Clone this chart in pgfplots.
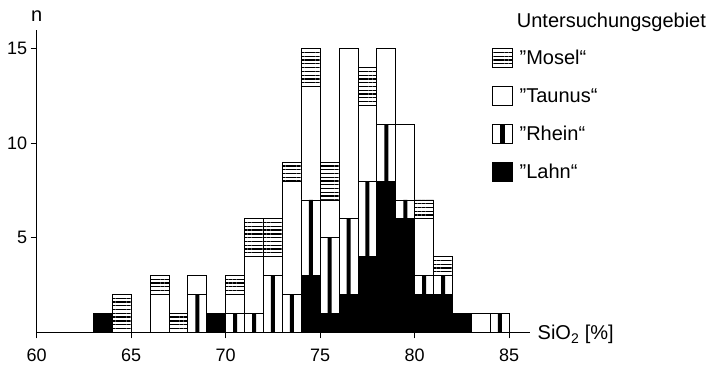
\documentclass[border=0pt]{standalone}
\usepackage{pgfplots}
\pgfplotsset{compat=1.18}
\usepackage{pgfplotstable}
\usepackage{fontspec}
\setmainfont{Liberation Sans}
\usetikzlibrary{patterns.meta}

% counts per 1 % SiO2 class (lower class limit in "bin")
\pgfplotstableread{
bin lahn rhein taunus mosel
63  1 0 0 0
64  0 0 0 2
66  0 0 2 1
67  0 0 0 1
68  0 2 1 0
69  1 0 0 0
70  0 1 1 1
71  0 1 3 2
72  0 3 1 2
73  0 2 6 1
74  3 4 6 2
75  1 4 2 2
76  2 4 9 0
77  4 4 4 2
78  8 3 4 0
79  6 1 4 0
80  2 1 3 1
81  2 1 0 1
82  1 0 0 0
83  0 0 1 0
84  0 1 0 0
}\siotable

\newcommand\bigfont{\fontsize{20bp}{24bp}\selectfont}

\begin{document}
\begin{tikzpicture}
\path[use as bounding box] (0,0) rectangle (716bp,370bp);
\pgfplotsset{
  sioaxis/.style={
    at={(36.7bp,37.7bp)}, anchor=south west,
    x=18.9bp, y=18.9bp,
    xmin=60, xmax=86.1, ymin=0, ymax=16,
    ybar stacked, bar width=1,
  },
}
\begin{axis}[sioaxis,
  axis lines=left,
  axis line style={-, line width=0.8bp, black},
  xtick={60,65,...,85}, ytick={5,10,15},
  tick align=outside, major tick length=6bp,
  tick style={line width=0.8bp, black},
  /pgf/number format/assume math mode=true,
  tick label style={font=\fontsize{18bp}{21bp}\selectfont},
  xticklabel style={yshift=-7bp},
  ylabel={n},
  ylabel style={rotate=-90, at={(axis description cs:0,1)}, anchor=base,
    inner sep=0pt, yshift=8.5bp, font=\bigfont},
  xlabel={SiO\textsubscript{2} [\%]},
  xlabel style={at={(axis description cs:1,0)}, anchor=base west,
    inner sep=0pt, xshift=7.5bp, yshift=-7.7bp, font=\bigfont},
  legend style={draw=none, fill=none, at={(axis description cs:0.9224,0.939)},
    anchor=north west, inner sep=0pt, outer sep=0pt,
    row sep=18.6bp, column sep=7bp, font=\bigfont,
    nodes={inner sep=0pt}},
  legend cell align=left, reverse legend,
  legend image code/.code={\draw[#1, line width=0.9bp] (0bp,-9.25bp) rectangle (20bp,9.25bp);},
]
\addplot[draw=black, line width=0.9bp, fill=black]
  table[x expr=\thisrow{bin}+0.5, y=lahn] {\siotable};
\addlegendentry{”Lahn“}
\addplot[draw=black, line width=0.9bp, fill=white,
  legend image code/.code={%
    \draw[fill=white, line width=0.9bp] (0bp,-9.25bp) rectangle (20bp,9.25bp);
    \fill[black] (8.3bp,-9.25bp) rectangle (12.5bp,9.25bp);}]
  table[x expr=\thisrow{bin}+0.5, y=rhein] {\siotable};
\addlegendentry{”Rhein“}
\addplot[draw=black, line width=0.9bp, fill=white]
  table[x expr=\thisrow{bin}+0.5, y=taunus] {\siotable};
\addlegendentry{”Taunus“}
\addplot[draw=black, line width=0.9bp,
  pattern={Lines[angle=0, distance=3.78bp, line width=1.3bp]}]
  table[x expr=\thisrow{bin}+0.5, y=mosel] {\siotable};
\addlegendentry{”Mosel“}
\end{axis}

% black centre stripe of the "Rhein" bars
\begin{axis}[sioaxis, hide axis, bar width=4bp]
\addplot[draw=none, fill=none]
  table[x expr=\thisrow{bin}+0.5, y=lahn] {\siotable};
\addplot[draw=none, fill=black]
  table[x expr=\thisrow{bin}+0.5, y=rhein] {\siotable};
\end{axis}

\node[anchor=base west, inner sep=0pt, font=\bigfont] at (516.7bp,342.7bp) {Untersuchungsgebiet};
\end{tikzpicture}
\end{document}
